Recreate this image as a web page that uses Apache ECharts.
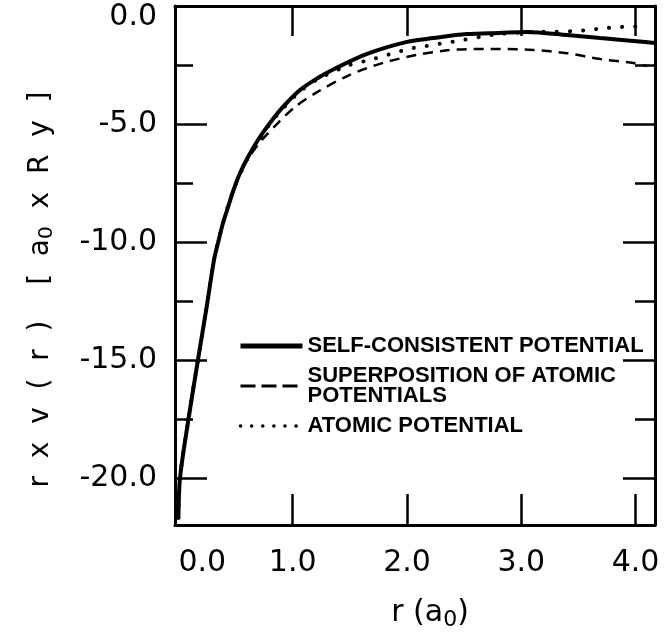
<!DOCTYPE html>
<html>
<head>
<meta charset="utf-8">
<script src="https://cdn.jsdelivr.net/npm/echarts@6/dist/echarts.min.js"></script>
<style>
    html, body { margin: 0; background: #fff; }
    #main { width: 669px; height: 636px; }
</style>
</head>
<body>
<div id="main"></div>
<script>
    // values: r in a0, r*V(r) in a0*Ry
    var solidR = [0, 0.014, 0.084, 0.171, 0.25, 0.311, 0.346, 0.39, 0.434, 0.482, 0.539, 0.609, 0.696, 0.801, 0.915, 1.064, 1.22, 1.35, 1.65, 2.0, 2.23, 2.52, 2.81, 3.05, 3.4, 3.69, 3.98, 4.17];
    var solidV = [-21.7, -20.0, -17.63, -15.0, -12.67, -10.77, -10.05, -9.2, -8.52, -7.8, -7.08, -6.4, -5.68, -4.96, -4.28, -3.56, -3.05, -2.7, -2.03, -1.52, -1.36, -1.19, -1.14, -1.1, -1.23, -1.36, -1.48, -1.57];

    var dashedR = [0, 0.014, 0.084, 0.171, 0.25, 0.311, 0.346, 0.39, 0.434, 0.482, 0.539, 0.61, 0.73, 0.87, 1.02, 1.21, 1.5, 1.79, 2.09, 2.35, 2.52, 2.81, 3.1, 3.4, 3.69, 3.98, 4.1];
    var dashedV = [-21.7, -20.0, -17.63, -15.0, -12.67, -10.77, -10.05, -9.2, -8.52, -7.8, -7.1, -6.45, -5.68, -4.96, -4.28, -3.66, -2.92, -2.41, -2.07, -1.88, -1.83, -1.82, -1.86, -2.0, -2.25, -2.42, -2.55];

    var dottedR = [0, 0.014, 0.084, 0.171, 0.25, 0.311, 0.39, 0.482, 0.609, 0.70, 0.80, 0.92, 1.064, 1.22, 1.5, 1.68, 1.83, 1.94, 2.03, 2.14, 2.26, 2.38, 2.49, 2.64, 2.79, 3.0, 3.15, 3.3, 3.44, 3.58, 3.71, 3.84, 3.95, 4.09];
    var dottedV = [-21.7, -20.0, -17.63, -15.0, -12.67, -10.77, -9.2, -7.8, -6.42, -5.72, -5.0, -4.32, -3.62, -3.1, -2.5, -2.28, -2.07, -1.92, -1.8, -1.72, -1.62, -1.53, -1.44, -1.31, -1.2, -1.12, -1.1, -1.09, -1.07, -1.02, -0.95, -0.9, -0.87, -0.88];

    var xTickLabels = [0, 1, 2, 3, 4];
    var xTicks = [1, 2, 3, 4];
    var yTickLabels = [0, -5, -10, -15, -20];
    var yMajor = [-5, -10, -15, -20];
    var yMinor = [-2.5, -7.5, -12.5, -17.5];

    var seriesNames = ['SELF-CONSISTENT POTENTIAL', 'SUPERPOSITION OF ATOMIC\nPOTENTIALS', 'ATOMIC POTENTIAL'];

    var chartDom = document.getElementById('main');
    var myChart = echarts.init(chartDom);

    function pairs(xs, ys) {
        return xs.map(function (x, i) { return [x, ys[i]]; });
    }

    var axisFont = 'DejaVu Sans';
    var X_MIN = -0.03, X_MAX = 4.17, Y_MIN = -22, Y_MAX = 0;

    function xAxisBox(pos, tickLen, labels) {
        return {
            type: 'value', position: pos, min: X_MIN, max: X_MAX,
            axisLine: { show: true, onZero: false, lineStyle: { color: '#000', width: 3 } },
            axisTick: { show: true, inside: true, length: tickLen, customValues: xTicks, lineStyle: { color: '#000', width: 2.5 } },
            axisLabel: labels ? {
                show: true, customValues: xTickLabels, margin: 23, alignMinLabel: 'left',
                color: '#000', fontFamily: axisFont, fontSize: 30,
                formatter: function (v) { return v.toFixed(1); }
            } : { show: false },
            splitLine: { show: false }
        };
    }

    function yAxisBox(pos, ticks, tickLen, labels, line) {
        return {
            type: 'value', position: pos, min: Y_MIN, max: Y_MAX,
            axisLine: { show: line, onZero: false, lineStyle: { color: '#000', width: 3 } },
            axisTick: { show: true, inside: true, length: tickLen, customValues: ticks, lineStyle: { color: '#000', width: 2.5 } },
            axisLabel: labels ? {
                show: true, customValues: yTickLabels, margin: 18,
                color: '#000', fontFamily: axisFont, fontSize: 30,
                formatter: function (v) { return v === 0 ? '{z|0.0}' : v.toFixed(1); },
                rich: { z: { fontFamily: axisFont, fontSize: 30, padding: [22, 0, 0, 0] } }
            } : { show: false },
            splitLine: { show: false }
        };
    }

    var option = {
        backgroundColor: '#fff',
        animation: false,
        grid: { left: 175, right: 14, top: 6, bottom: 111, outerBoundsMode: 'none', containLabel: false },
        legend: {
            orient: 'vertical', left: 233, top: 330,
            itemWidth: 62, itemHeight: 14, itemGap: 8,
            itemStyle: { opacity: 0 },
            textStyle: { color: '#000', fontFamily: 'Liberation Sans', fontWeight: 'bold', fontSize: 22, lineHeight: 20 },
            data: [
                { name: seriesNames[0], lineStyle: { width: 5, color: '#000' } },
                { name: seriesNames[1], lineStyle: { width: 3, color: '#000', type: [15, 6] } },
                { name: seriesNames[2], lineStyle: { width: 3.5, color: '#000', type: [0.1, 11], cap: 'round' } }
            ]
        },
        xAxis: [
            Object.assign(xAxisBox('bottom', 31, true), {
                name: 'r (a{sub|0})', nameLocation: 'middle', nameGap: 70,
                nameTextStyle: {
                    color: '#000', fontFamily: axisFont, fontSize: 30, padding: [0, 0, 0, 30],
                    rich: { sub: { fontFamily: axisFont, fontSize: 22, verticalAlign: 'bottom', padding: [14, 0, 0, 0] } }
                }
            }),
            xAxisBox('top', 30, false)
        ],
        yAxis: [
            Object.assign(yAxisBox('left', yMajor, 32, true, true), {
                name: 'r  x  v  (  r  )    [  a{sub|0}  x  R  y  ]', nameLocation: 'middle', nameGap: 118, nameRotate: 90,
                nameTextStyle: {
                    color: '#000', fontFamily: axisFont, fontSize: 28, padding: [0, 48, 0, 0],
                    rich: { sub: { fontFamily: axisFont, fontSize: 20, verticalAlign: 'bottom', padding: [12, 0, 0, 0] } }
                }
            }),
            yAxisBox('left', yMinor, 18, false, false),
            yAxisBox('right', yMajor, 32, false, true),
            yAxisBox('right', yMinor, 20, false, false)
        ],
        series: [
            {
                name: seriesNames[0], type: 'line', symbol: 'none', smooth: 0.3, z: 5,
                itemStyle: { color: '#000' },
                lineStyle: { color: '#000', width: 4 },
                data: pairs(solidR, solidV)
            },
            {
                name: seriesNames[1], type: 'line', symbol: 'none', smooth: 0.3, z: 4,
                itemStyle: { color: '#000' },
                lineStyle: { color: '#000', width: 2.5, type: [10, 7] },
                data: pairs(dashedR, dashedV)
            },
            {
                name: seriesNames[2], type: 'line', symbol: 'none', smooth: 0.3, z: 3,
                itemStyle: { color: '#000' },
                lineStyle: { color: '#000', width: 4, type: [0.1, 13], cap: 'round' },
                data: pairs(dottedR, dottedV)
            }
        ]
    };

    myChart.setOption(option);
</script>
</body>
</html>
